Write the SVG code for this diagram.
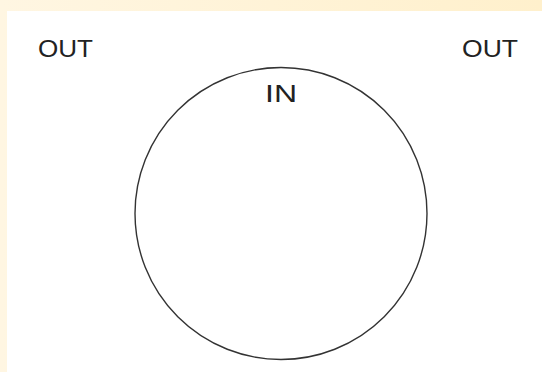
<svg xmlns="http://www.w3.org/2000/svg" width="542" height="372" viewBox="0 0 542 372">
  <defs>
    <linearGradient id="bg" x1="0" y1="0" x2="1" y2="0">
      <stop offset="0" stop-color="#fff6e2"/>
      <stop offset="1" stop-color="#fff0cc"/>
    </linearGradient>
    <style>
      .lbl { font-family: "Liberation Sans", "DejaVu Sans", sans-serif; font-size: 23px; fill: #222; }
      .circ { fill: #ffffff; stroke: #333333; stroke-width: 1.4; }
    </style>
  </defs>
  <rect x="0" y="0" width="542" height="372" fill="url(#bg)"/>
  <rect x="7" y="11" width="535" height="361" fill="#ffffff"/>
  <g id="circle-node">
    <circle class="circ" cx="281" cy="213.5" r="146"/>
    <text class="lbl" x="265" y="102" textLength="32" lengthAdjust="spacingAndGlyphs">IN</text>
  </g>
  <g id="out-left">
    <text class="lbl" x="38" y="57" textLength="55" lengthAdjust="spacingAndGlyphs">OUT</text>
  </g>
  <g id="out-right">
    <text class="lbl" x="462" y="57" textLength="56" lengthAdjust="spacingAndGlyphs">OUT</text>
  </g>
  <g id="connectors"/>
</svg>
